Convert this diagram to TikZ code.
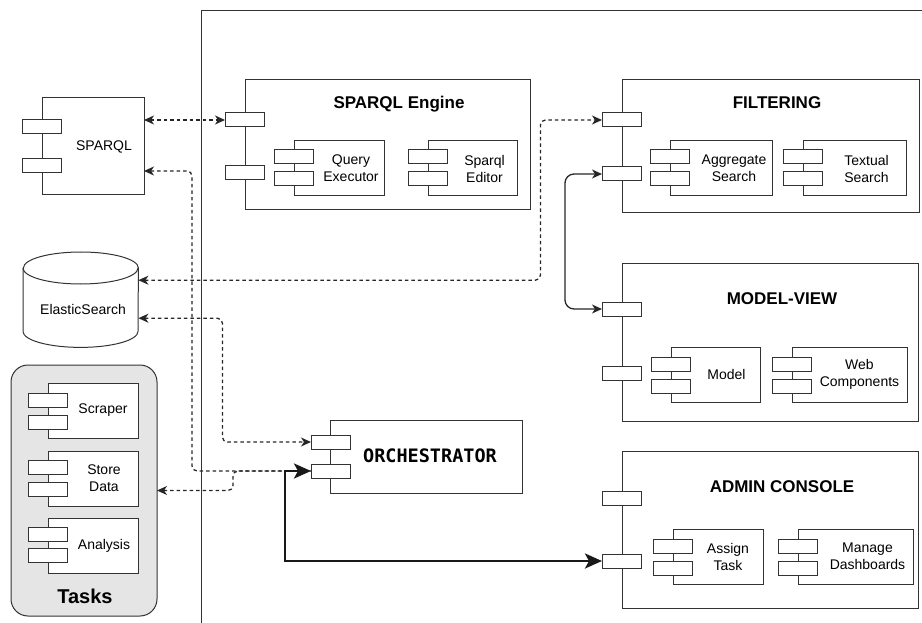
\documentclass[tikz,border=0pt]{standalone}
\usepackage{fontspec}
\setmainfont{Liberation Sans}
\newfontfamily\orchfont{DejaVu Sans Mono}
\usepackage{tikz}
\usetikzlibrary{arrows.meta,calc}

\begin{document}
\begin{tikzpicture}[x=1pt, y=-1pt,
  every node/.style={font=\fontsize{14}{17}\selectfont, align=center, inner sep=0pt},
  box/.style={rectangle, draw=black!80, line width=1pt, fill=white, outer sep=0pt, anchor=north west},
  port/.style={box, minimum width=39, minimum height=14},
  sub/.style={box, minimum height=55},
  title/.style={font=\fontsize{17}{20}\selectfont\bfseries},
  >={Stealth[length=10pt,width=9pt,inset=3pt]},
  dash link/.style={draw=black!85, line width=1.3pt, dash pattern=on 3.5pt off 3pt, rounded corners=5pt},
  solid link/.style={draw=black!85, line width=1.3pt, rounded corners=9pt},
  thick link/.style={draw=black!90, line width=2.8pt, {Stealth[length=17pt,width=15pt,inset=4pt]}-{Stealth[length=17pt,width=15pt,inset=4pt]}}]
\useasboundingbox (0,0) rectangle (922,623);

\draw[draw=black!80, line width=1pt] (922,11) -- (201,11) -- (201,623);

\node[box, minimum width=102, minimum height=97] (sparql) at (42,98) {};
\node[port] (sparql-p1) at ([xshift=-20,yshift=-22]sparql.north west) {};
\node[port] (sparql-p2) at ([xshift=-20,yshift=-61]sparql.north west) {};
\node (sparql-txt) at ([xshift=11]sparql.center) {SPARQL};

\node[minimum width=115, minimum height=95, anchor=north west] (es) at (23,252) {};
\draw[draw=black!80, line width=1pt, fill=white] ([yshift=-16]es.north west) -- ([yshift=16]es.south west)
  arc[start angle=180, end angle=0, x radius=57.5, y radius=16] -- ([yshift=-16]es.north east)
  arc[start angle=0, end angle=-180, x radius=57.5, y radius=16] -- cycle;
\draw[draw=black!80, line width=1pt] ([yshift=-16]es.north west) arc[start angle=180, end angle=0, x radius=57.5, y radius=16];
\node (es-txt) at (83,309) {ElasticSearch};

\node[box, fill=black!10, rounded corners=17pt, minimum width=146, minimum height=251] (tasks) at (11,365) {};
\node[sub, minimum width=90] (scraper) at (48,383) {};
\node[port] (scraper-p1) at ([xshift=-20,yshift=-10]scraper.north west) {};
\node[port] (scraper-p2) at ([xshift=-20,yshift=-32]scraper.north west) {};
\node (scraper-txt) at ([xshift=10]scraper.center) {Scraper};
\node[sub, minimum width=90] (store) at (48,451) {};
\node[port] (store-p1) at ([xshift=-20,yshift=-9]store.north west) {};
\node[port] (store-p2) at ([xshift=-20,yshift=-31]store.north west) {};
\node (store-txt) at ([xshift=11]store.center) {Store\\Data};
\node[sub, minimum width=90] (analysis) at (48,518) {};
\node[port] (analysis-p1) at ([xshift=-20,yshift=-9]analysis.north west) {};
\node[port] (analysis-p2) at ([xshift=-20,yshift=-30]analysis.north west) {};
\node (analysis-txt) at ([xshift=11]analysis.center) {Analysis};
\node[font=\fontsize{20}{24}\selectfont\bfseries] (tasks-txt) at (85,596) {Tasks};

\node[box, minimum width=285, minimum height=130] (engine) at (245,80) {};
\node[port] (engine-p1) at ([xshift=-20,yshift=-33]engine.north west) {};
\node[port] (engine-p2) at ([xshift=-20,yshift=-86]engine.north west) {};
\node[title] (engine-txt) at (399,104) {SPARQL Engine};
\node[sub, minimum width=90] (executor) at (294,141) {};
\node[port] (executor-p1) at ([xshift=-20,yshift=-9]executor.north west) {};
\node[port] (executor-p2) at ([xshift=-20,yshift=-31]executor.north west) {};
\node (executor-txt) at ([xshift=12]executor.center) {Query\\Executor};
\node[sub, minimum width=89] (editor) at (428,141) {};
\node[port] (editor-p1) at ([xshift=-20,yshift=-9]editor.north west) {};
\node[port] (editor-p2) at ([xshift=-20,yshift=-31]editor.north west) {};
\node (editor-txt) at ([xshift=12]editor.center) {Sparql\\Editor};

\node[box, minimum width=297, minimum height=133] (filter) at (622,80) {};
\node[port] (filter-p1) at ([xshift=-20,yshift=-33]filter.north west) {};
\node[port] (filter-p2) at ([xshift=-20,yshift=-87]filter.north west) {};
\node[title] (filter-txt) at (777,103) {FILTERING};
\node[sub, minimum width=102] (aggregate) at (670,141) {};
\node[port] (aggregate-p1) at ([xshift=-20,yshift=-9]aggregate.north west) {};
\node[port] (aggregate-p2) at ([xshift=-20,yshift=-31]aggregate.north west) {};
\node (aggregate-txt) at ([xshift=13]aggregate.center) {Aggregate\\Search};
\node[sub, minimum width=103] (textual) at (803,141) {};
\node[port] (textual-p1) at ([xshift=-20,yshift=-9]textual.north west) {};
\node[port] (textual-p2) at ([xshift=-20,yshift=-31]textual.north west) {};
\node (textual-txt) at ([xshift=12]textual.center) {Textual\\Search};

\node[box, minimum width=296, minimum height=158] (mv) at (622,263) {};
\node[port] (mv-p1) at ([xshift=-20,yshift=-39]mv.north west) {};
\node[port] (mv-p2) at ([xshift=-20,yshift=-103]mv.north west) {};
\node[title] (mv-txt) at (782,299) {MODEL-VIEW};
\node[sub, minimum width=89] (model) at (671,347) {};
\node[port] (model-p1) at ([xshift=-20,yshift=-10]model.north west) {};
\node[port] (model-p2) at ([xshift=-20,yshift=-32]model.north west) {};
\node (model-txt) at ([xshift=11]model.center) {Model};
\node[sub, minimum width=115] (webcomp) at (792,347) {};
\node[port] (webcomp-p1) at ([xshift=-20,yshift=-10]webcomp.north west) {};
\node[port] (webcomp-p2) at ([xshift=-20,yshift=-32]webcomp.north west) {};
\node (webcomp-txt) at ([xshift=10]webcomp.center) {Web\\Components};

\node[box, minimum width=192, minimum height=73] (orch) at (330,420) {};
\node[port] (orch-p1) at ([xshift=-19,yshift=-15]orch.north west) {};
\node[port] (orch-p2) at ([xshift=-19,yshift=-44]orch.north west) {};
\node[font=\orchfont\fontsize{18.5}{22}\selectfont\bfseries] (orch-txt) at (430,456) {ORCHESTRATOR};

\node[box, minimum width=296, minimum height=157] (admin) at (622,451) {};
\node[port] (admin-p1) at ([xshift=-20,yshift=-40]admin.north west) {};
\node[port] (admin-p2) at ([xshift=-20,yshift=-103]admin.north west) {};
\node[title] (admin-txt) at (782,487) {ADMIN CONSOLE};
\node[sub, minimum width=90] (assign) at (673,529) {};
\node[port] (assign-p1) at ([xshift=-20,yshift=-10]assign.north west) {};
\node[port] (assign-p2) at ([xshift=-20,yshift=-32]assign.north west) {};
\node (assign-txt) at ([xshift=10]assign.center) {Assign\\Task};
\node[sub, minimum width=115] (dash) at (798,529) {};
\node[port] (dash-p1) at ([xshift=-20,yshift=-10]dash.north west) {};
\node[port] (dash-p2) at ([xshift=-20,yshift=-32]dash.north west) {};
\node (dash-txt) at ([xshift=12]dash.center) {Manage\\Dashboards};

\draw[dash link, <->] (sparql.east |- engine-p1.west) -- (engine-p1.west);
\draw[dash link, <-] ([yshift=-24.5]sparql.east) -- ++(48,0) |- (orch-p2.west);
\draw[dash link, <->] ([yshift=19.5]es.east) -- ++(402,0) |- (filter-p1.west);
\draw[dash link, <->] ([yshift=-18.5]es.east) -- ++(84,0) |- (orch-p1.west);
\draw[dash link, <-] (tasks.east) -- ++(76,0) |- (orch-p2.west);
\draw[solid link, <->] (filter-p2.west) -- ++(-37,0) |- (mv-p1.west);
\draw[thick link] (orch-p2.west) -- ++(-26,0) |- (admin-p2.west);
\end{tikzpicture}
\end{document}
